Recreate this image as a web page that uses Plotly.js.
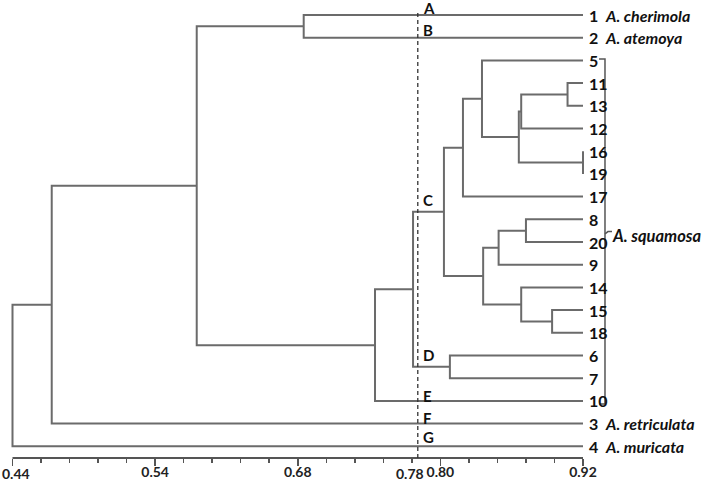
<!DOCTYPE html>
<html>
<head>
<meta charset="utf-8">
<script src="https://cdn.plot.ly/plotly-3.0.1.min.js"></script>
<style>html,body{margin:0;padding:0;background:#fff;}#chart{width:708px;height:484px;}</style>
</head>
<body>
<div id="chart"></div>
<script>
// ---- data ----
const leafOrder = ['1','2','5','11','13','12','16','19','17','8','20','9','14','15','18','6','7','10','3','4'];
const leafNames = {'1':'A. cherimola','2':'A. atemoya','3':'A. retriculata','4':'A. muricata'};
const leafX = 0.92;
const mergeIds    = ['n1_2','n11_13','n16_19','n11_12','nA1','nA2','nA3','n8_20','nB1','n15_18','nB2','nB3','nC','nD','nCD','nSq','nTop','nRet','root'];
const mergeLeft   = ['1','11','16','n11_13','n11_12','5','nA2','8','n8_20','15','14','nB1','nA3','6','nC','nCD','n1_2','nTop','nRet'];
const mergeRight  = ['2','13','19','12','n16_19','nA1','17','20','9','18','n15_18','nB2','nB3','7','nD','10','nSq','3','4'];
const mergeHeight = [0.685,0.907,0.920,0.868,0.866,0.835,0.819,0.872,0.849,0.894,0.868,0.836,0.803,0.808,0.777,0.745,0.595,0.473,0.440];
const cutValue = 0.781;
const cutLabel = '0.78';
const groupLetters = ['A','B','C','D','E','F','G'];
const groupAnchors = ['1','2','nC','nD','10','3','4'];
const groupShift   = [7,8,12,12,5,6,9];
const tickVals = [0.44,0.56,0.68,0.80,0.92];
const tickText = ['','0.54','0.68','0.80','0.92'];
const firstTickLabel = '0.44';

// ---- build dendrogram ----
const pos = {};
leafOrder.forEach((l,i)=>{ pos[l] = {x:leafX, y:i}; });
const xs = [], ys = [];
mergeIds.forEach((id,k)=>{
  const a = pos[mergeLeft[k]], b = pos[mergeRight[k]], h = mergeHeight[k];
  xs.push(a.x, h, h, b.x, null);
  ys.push(a.y, a.y, b.y, b.y, null);
  pos[id] = {x:h, y:(a.y+b.y)/2};
});

const FONT = 'Lato, "Open Sans", sans-serif';
const FS = 16;
const annotations = [];
leafOrder.forEach((l,i)=>{
  const txt = leafNames[l] ? l + '\u00a0\u00a0<i>' + leafNames[l] + '</i>' : l;
  annotations.push({x:leafX, y:i, xref:'x', yref:'y', text:'<b>'+txt+'</b>', showarrow:false,
    xanchor:'left', yanchor:'middle', xshift:5, borderpad:0, font:{family:FONT, size:FS, color:'#111'}});
});
groupLetters.forEach((g,k)=>{
  annotations.push({x:cutValue, y:pos[groupAnchors[k]].y, xref:'x', yref:'y', text:'<b>'+g+'</b>', showarrow:false,
    xanchor:'left', yanchor:'middle', xshift:4, yshift:groupShift[k], borderpad:0, font:{family:FONT, size:15, color:'#111'}});
});
// axis labels placed as text (cut value and first tick)
annotations.push({x:cutValue, y:0, xref:'x', yref:'paper', text:'<b>'+cutLabel+'</b>', showarrow:false,
  xanchor:'center', yanchor:'top', xshift:-8, yshift:-6, borderpad:0, font:{family:FONT, size:14, color:'#222'}});
annotations.push({x:tickVals[0], y:0, xref:'x', yref:'paper', text:'<b>'+firstTickLabel+'</b>', showarrow:false,
  xanchor:'left', yanchor:'top', xshift:-12, yshift:-6, borderpad:0, font:{family:FONT, size:14, color:'#222'}});

// bracket for A. squamosa
const brTop = pos['5'].y - 0.06, brBot = pos['10'].y + 0.14, brMid = (brTop+brBot)/2;
const bx0 = 0.9335, bx1 = 0.9385, bx2 = 0.9444;
annotations.push({x:bx2, y:brMid + 0.2, xref:'x', yref:'y', text:'<b><i>A. squamosa</i></b>', showarrow:false,
  xanchor:'left', yanchor:'middle', xshift:-1, borderpad:0, font:{family:FONT, size:16.5, color:'#111'}});

const minorVals = [];
for (let k=1;k<20;k++){ const v = +(0.44 + k*0.024).toFixed(3); if (!tickVals.some(t=>Math.abs(t-v)<1e-6)) minorVals.push(v); }

const trace = {x:xs, y:ys, mode:'lines', type:'scatter', line:{color:'#6b6b6b', width:2}, hoverinfo:'skip', connectgaps:false};

const layout = {
  width:708, height:484, margin:{l:0,r:0,t:0,b:26}, paper_bgcolor:'#fff', plot_bgcolor:'#fff', showlegend:false,
  xaxis:{range:[0.42948,1.02517], showgrid:false, zeroline:false, showline:false, automargin:false,
    tickmode:'array', tickvals:tickVals, ticktext:tickText, ticks:'outside', ticklen:7, tickwidth:1.5, tickcolor:'#555',
    tickangle:0, ticklabeloverflow:'allow', ticklabelstandoff:-6,
    tickfont:{family:FONT, size:14, color:'#222', weight:'bold'},
    minor:{tickmode:'array', tickvals:minorVals, ticks:'outside', ticklen:4, tickwidth:1.5, tickcolor:'#555', showgrid:false}},
  yaxis:{range:[19.515,-0.661], visible:false, showgrid:false, zeroline:false},
  shapes:[
    {type:'line', xref:'x', yref:'paper', x0:0.44, x1:0.92, y0:0, y1:0, line:{color:'#555', width:2}},
    {type:'line', xref:'x', yref:'y', x0:cutValue, x1:cutValue, y0:-0.09, y1:19.515, line:{color:'#333', width:1.3, dash:'4px,3px'}},
    {type:'path', xref:'x', yref:'y', path:`M ${bx0},${brTop} L ${bx1},${brTop} L ${bx1},${brBot} L ${bx0},${brBot}`, line:{color:'#555', width:1.5}},
    {type:'path', xref:'x', yref:'y', path:`M ${bx1},${brMid+0.1} L ${bx1+0.0025},${brMid} L ${bx2},${brMid}`, line:{color:'#555', width:1.5}}
  ],
  annotations:annotations
};
Plotly.newPlot('chart',[trace],layout,{staticPlot:true, displayModeBar:false});
</script>
</body>
</html>
